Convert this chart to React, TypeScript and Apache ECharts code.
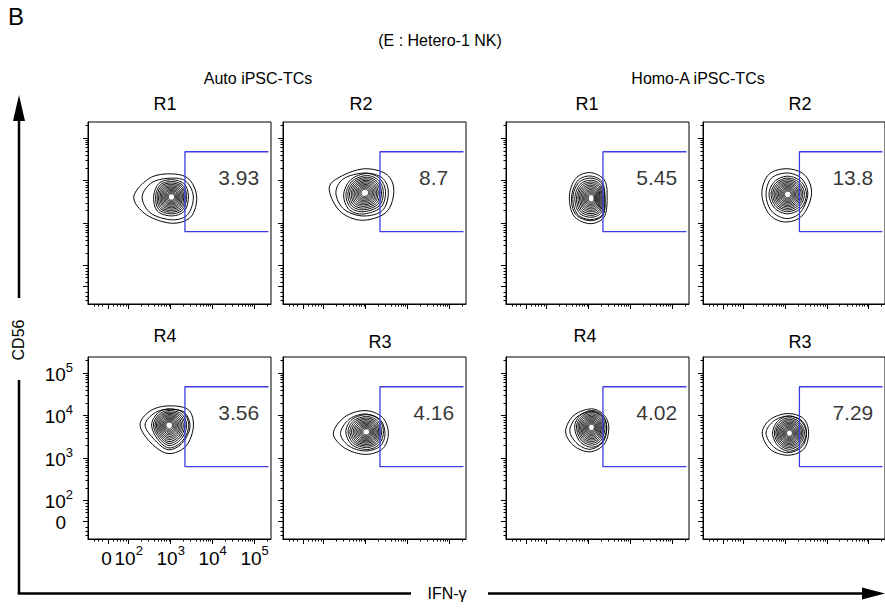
import React, { useEffect, useRef } from "react";
import * as echarts from "echarts";

const FONT = "Liberation Sans, Arial, Helvetica, sans-serif";

// ---- data ----
const panelTitles = ["R1", "R2", "R1", "R2", "R4", "R3", "R4", "R3"];
const gateValues = ["3.93", "8.7", "5.45", "13.8", "3.56", "4.16", "4.02", "7.29"];
const groupTitles = ["Auto iPSC-TCs", "Homo-A iPSC-TCs"];
const chartTitle = "(E : Hetero-1 NK)";
const panelLetter = "B";
const yAxisName = "CD56";
const xAxisName = "IFN-γ";

// display units: 10^k sits at k ; "0" sits at 1.52 (biexponential scale)
const tickValues = [1.52, 2, 3, 4, 5];
const tickBase = ["0", "10", "10", "10", "10"];
const tickExp = ["", "2", "3", "4", "5"];
const axisRangeX = [1.03, 5.39];
const axisRangeY = [1.1, 5.38];

// gate (IFN-γ+ region)
const gateX = [3.34, 5.33];
const gateY = [2.8, 4.68];
const gateLabelPos = [4.62, 4.08];

// contour centres (display units)
const contourCenters = [
  [3.02, 3.62], [2.98, 3.72], [3.07, 3.59], [3.06, 3.68],
  [2.96, 3.78], [3.02, 3.62], [3.07, 3.73], [3.1, 3.59],
];
// outer contour (E, NE, N, NW, W, SW, S, SE offsets)
const outerContours = [
  [[0.6, 0], [0.41, 0.42], [0, 0.54], [-0.52, 0.44], [-0.9, 0], [-0.6, -0.42], [0, -0.62], [0.46, -0.47]],
  [[0.69, 0.02], [0.53, 0.42], [0, 0.56], [-0.57, 0.38], [-0.85, 0.1], [-0.6, -0.43], [-0.08, -0.65], [0.5, -0.47]],
  [[0.37, 0.04], [0.3, 0.43], [-0.04, 0.6], [-0.38, 0.46], [-0.53, 0.04], [-0.42, -0.42], [-0.04, -0.6], [0.3, -0.44]],
  [[0.57, 0], [0.42, 0.44], [0, 0.6], [-0.45, 0.47], [-0.62, 0.02], [-0.45, -0.46], [-0.08, -0.65], [0.34, -0.51]],
  [[0.58, -0.04], [0.46, 0.36], [-0.02, 0.45], [-0.45, 0.33], [-0.69, 0], [-0.43, -0.42], [-0.02, -0.67], [0.4, -0.5]],
  [[0.52, -0.04], [0.38, 0.34], [-0.04, 0.5], [-0.52, 0.35], [-0.79, -0.04], [-0.52, -0.38], [-0.04, -0.53], [0.38, -0.4]],
  [[0.41, -0.02], [0.3, 0.28], [0, 0.43], [-0.42, 0.28], [-0.62, -0.1], [-0.42, -0.44], [-0.04, -0.58], [0.3, -0.4]],
  [[0.46, 0], [0.34, 0.34], [-0.04, 0.46], [-0.46, 0.32], [-0.65, 0], [-0.46, -0.38], [-0.04, -0.52], [0.34, -0.38]],
];
const secondContours = [
  [[0.52, 0], [0.35, 0.36], [0, 0.44], [-0.46, 0.34], [-0.7, 0], [-0.5, -0.38], [0, -0.54], [0.38, -0.42]],
  [[0.56, 0], [0.42, 0.34], [0, 0.46], [-0.5, 0.33], [-0.69, 0], [-0.5, -0.39], [-0.04, -0.55], [0.42, -0.42]],
  [[0.32, 0], [0.25, 0.38], [-0.04, 0.52], [-0.34, 0.4], [-0.48, 0], [-0.38, -0.38], [-0.04, -0.53], [0.27, -0.4]],
  [[0.48, 0], [0.34, 0.36], [0, 0.5], [-0.39, 0.38], [-0.52, 0], [-0.39, -0.39], [-0.04, -0.57], [0.3, -0.43]],
  [[0.5, -0.04], [0.36, 0.3], [-0.02, 0.37], [-0.35, 0.28], [-0.57, 0], [-0.35, -0.34], [-0.02, -0.58], [0.32, -0.42]],
  [[0.44, -0.04], [0.32, 0.29], [-0.04, 0.42], [-0.42, 0.29], [-0.62, -0.04], [-0.42, -0.33], [-0.04, -0.45], [0.32, -0.34]],
  [[0.36, -0.02], [0.27, 0.24], [0, 0.37], [-0.35, 0.24], [-0.52, -0.08], [-0.35, -0.38], [-0.04, -0.52], [0.27, -0.35]],
  [[0.41, 0], [0.3, 0.29], [-0.04, 0.4], [-0.38, 0.28], [-0.56, 0], [-0.38, -0.32], [-0.04, -0.46], [0.3, -0.32]],
];
const coreContours = [
  [[0.36, 0], [0.27, 0.27], [0, 0.36], [-0.27, 0.28], [-0.38, 0], [-0.3, -0.3], [0, -0.4], [0.27, -0.3]],
  [[0.44, 0.02], [0.32, 0.29], [0.04, 0.4], [-0.3, 0.27], [-0.45, -0.04], [-0.34, -0.35], [-0.04, -0.45], [0.34, -0.31]],
  [[0.28, 0], [0.21, 0.31], [-0.02, 0.42], [-0.28, 0.32], [-0.4, 0], [-0.3, -0.34], [-0.02, -0.45], [0.23, -0.34]],
  [[0.4, 0], [0.28, 0.27], [0, 0.38], [-0.28, 0.27], [-0.4, 0], [-0.28, -0.29], [0, -0.41], [0.28, -0.29]],
  [[0.42, -0.02], [0.3, 0.26], [0, 0.34], [-0.24, 0.25], [-0.37, 0], [-0.24, -0.3], [0, -0.48], [0.28, -0.34]],
  [[0.36, 0], [0.26, 0.26], [0, 0.36], [-0.31, 0.26], [-0.44, 0], [-0.31, -0.27], [0, -0.37], [0.26, -0.27]],
  [[0.32, 0], [0.23, 0.25], [0, 0.35], [-0.25, 0.24], [-0.36, 0], [-0.25, -0.3], [0, -0.42], [0.23, -0.3]],
  [[0.36, 0], [0.25, 0.25], [0, 0.36], [-0.25, 0.25], [-0.36, 0], [-0.25, -0.26], [0, -0.38], [0.25, -0.26]],
];
const coreScales = [1.12, 1, 0.9, 0.81, 0.72, 0.64, 0.56, 0.48, 0.41, 0.34, 0.27, 0.2];

// ---- layout ----
const PANEL_LEFT = [88, 283, 506, 703];
const PANEL_TOP = [122, 357];
const PANEL_W = 183;
const PANEL_H = 182;
const GATE_COLOR = "#3c3ce6";
const LABELLED_PANEL = 4;
const BASE_SIZE = 19;
const EXP_SIZE = 13;

const minorTicks: number[] = [1.18, 1.28, 1.38, 1.62, 1.72, 1.8, 1.87, 1.93];
for (let k = 2; k <= 5; k++) {
  for (let m = 2; m <= 9; m++) {
    const v = k + Math.log10(m);
    if (v < axisRangeX[1]) minorTicks.push(v);
  }
}

// closed Catmull-Rom smoothing of a ring of pixel points
function smoothRing(pts: number[][], steps = 10): number[][] {
  const n = pts.length;
  const out: number[][] = [];
  for (let i = 0; i < n; i++) {
    const p0 = pts[(i - 1 + n) % n];
    const p1 = pts[i];
    const p2 = pts[(i + 1) % n];
    const p3 = pts[(i + 2) % n];
    for (let s = 0; s < steps; s++) {
      const t = s / steps;
      const t2 = t * t;
      const t3 = t2 * t;
      const f = (a: number, b: number, c: number, d: number) =>
        0.5 * (2 * b + (-a + c) * t + (2 * a - 5 * b + 4 * c - d) * t2 + (-a + 3 * b - 3 * c + d) * t3);
      out.push([f(p0[0], p1[0], p2[0], p3[0]), f(p0[1], p1[1], p2[1], p3[1])]);
    }
  }
  return out;
}

const txt = (text: string, x: number, y: number, fontSize: number, extra: any = {}, align = "center", vAlign = "middle") => ({
  type: "text", x, y, silent: true, ...extra,
  style: { text, fontSize, fontFamily: FONT, fill: "#000", align, verticalAlign: vAlign },
});

function baseGraphic(): any[] {
  const titleY = [104, 104, 104, 104, 336, 342, 336, 342];
  const titleX = [165, 361, 587, 800, 165, 380, 585, 800];
  return [
    txt(panelLetter, 16, 16, 24),
    txt(chartTitle, 440, 40, 16),
    txt(groupTitles[0], 258, 78, 16),
    txt(groupTitles[1], 698, 78, 16),
    ...panelTitles.map((t, i) => txt(t, titleX[i], titleY[i], 18)),
    txt(yAxisName, 18, 340, 16, { rotation: Math.PI / 2 }),
    txt(xAxisName, 447, 593, 16),
    { type: "line", silent: true, shape: { x1: 19, y1: 116, x2: 19, y2: 298 }, style: { stroke: "#000", lineWidth: 2.5 } },
    { type: "line", silent: true, shape: { x1: 19, y1: 380, x2: 19, y2: 594 }, style: { stroke: "#000", lineWidth: 2.5 } },
    { type: "line", silent: true, shape: { x1: 17.8, y1: 593.5, x2: 411, y2: 593.5 }, style: { stroke: "#000", lineWidth: 2.5 } },
    { type: "line", silent: true, shape: { x1: 488, y1: 593.5, x2: 866, y2: 593.5 }, style: { stroke: "#000", lineWidth: 2.5 } },
    { type: "polygon", silent: true, shape: { points: [[19, 95], [13, 121], [25, 121]] }, style: { fill: "#000" } },
    { type: "polygon", silent: true, shape: { points: [[885, 593.5], [862, 587.5], [862, 599.5]] }, style: { fill: "#000" } },
  ];
}

function buildOption() {
  const grid: any[] = [];
  const xAxis: any[] = [];
  const yAxis: any[] = [];
  const series: any[] = [];
  for (let i = 0; i < 8; i++) {
    const col = i % 4;
    const row = Math.floor(i / 4);
    grid.push({
      left: PANEL_LEFT[col], top: PANEL_TOP[row], width: PANEL_W, height: PANEL_H,
      show: true, borderColor: "#000", borderWidth: 1, backgroundColor: "transparent",
    });
    const common = { type: "value", gridIndex: i, splitLine: { show: false }, axisLabel: { show: false } };
    xAxis.push({
      ...common, min: axisRangeX[0], max: axisRangeX[1], position: "bottom",
      axisLine: { show: true, lineStyle: { color: "#000", width: 1 } },
      axisTick: { show: true, inside: false, length: 5, customValues: tickValues, lineStyle: { color: "#000", width: 1 } },
    });
    xAxis.push({
      ...common, min: axisRangeX[0], max: axisRangeX[1], position: "bottom",
      axisLine: { show: false },
      axisTick: { show: true, inside: false, length: 2.5, customValues: minorTicks, lineStyle: { color: "#000", width: 1 } },
    });
    yAxis.push({
      ...common, min: axisRangeY[0], max: axisRangeY[1], position: "left",
      axisLine: { show: true, lineStyle: { color: "#000", width: 1 } },
      axisTick: { show: true, inside: false, length: 5, customValues: tickValues, lineStyle: { color: "#000", width: 1 } },
    });
    yAxis.push({
      ...common, min: axisRangeY[0], max: axisRangeY[1], position: "left",
      axisLine: { show: false },
      axisTick: { show: true, inside: false, length: 2.5, customValues: minorTicks.filter((v) => v < axisRangeY[1]), lineStyle: { color: "#000", width: 1 } },
    });

    const [cx, cy] = contourCenters[i];
    const levels: number[][][] = [outerContours[i], secondContours[i]];
    coreScales.forEach((s) => {
      levels.push(coreContours[i].map(([dx, dy]) => [dx * s, dy * s]));
    });
    series.push({
      type: "custom",
      coordinateSystem: "cartesian2d",
      xAxisIndex: i * 2,
      yAxisIndex: i * 2,
      silent: true,
      clip: true,
      data: levels.map((_, li) => [cx, cy, li]),
      renderItem: (params: any, api: any) => {
        const lv = levels[params.dataIndex];
        const pts = lv.map(([dx, dy]) => api.coord([cx + dx, cy + dy]));
        return {
          type: "polygon",
          shape: { points: smoothRing(pts) },
          style: { fill: "none", stroke: "#000", lineWidth: 1 },
        };
      },
    });
    series.push({
      type: "line",
      xAxisIndex: i * 2,
      yAxisIndex: i * 2,
      symbol: "none",
      silent: true,
      lineStyle: { color: GATE_COLOR, width: 1.3 },
      data: [
        [gateX[1], gateY[1]], [gateX[0], gateY[1]], [gateX[0], gateY[0]], [gateX[1], gateY[0]],
      ],
    });
    series.push({
      type: "scatter",
      xAxisIndex: i * 2,
      yAxisIndex: i * 2,
      symbolSize: 1,
      silent: true,
      itemStyle: { color: "rgba(0,0,0,0)" },
      label: {
        show: true, position: "inside", formatter: gateValues[i],
        fontSize: 21, fontFamily: FONT, color: "#000", textBorderWidth: 0,
      },
      data: [gateLabelPos],
    });
  }

  return { animation: false, backgroundColor: "#fff", grid, xAxis, yAxis, series, graphic: baseGraphic() };
}

export default function App() {
  const ref = useRef<HTMLDivElement>(null);
  useEffect(() => {
    if (!ref.current) return;
    const chart = echarts.init(ref.current, undefined, { renderer: "svg" });
    chart.setOption(buildOption() as any);
    // tick labels of the labelled panel, placed through the panel's own axes
    const finder = { xAxisIndex: LABELLED_PANEL * 2, yAxisIndex: LABELLED_PANEL * 2 } as any;
    const baseW = 0.556 * BASE_SIZE; // digit advance
    const expW = 0.556 * EXP_SIZE;
    const tickGraphic: any[] = [];
    tickValues.forEach((v, i) => {
      const px = chart.convertToPixel(finder, [v, axisRangeY[0]]) as number[];
      const py = chart.convertToPixel(finder, [axisRangeX[0], v]) as number[];
      const base = tickBase[i];
      const exp = tickExp[i];
      const bw = base.length * baseW;
      const ew = exp.length * expW;
      // x axis label (centred under tick)
      const xTop = px[1] + 10;
      const xLeft = px[0] - (bw + ew) / 2 + (i === 0 ? -2 : 0);
      tickGraphic.push(txt(base, xLeft, xTop, BASE_SIZE, {}, "left", "top"));
      if (exp) tickGraphic.push(txt(exp, xLeft + bw, xTop - 5, EXP_SIZE, {}, "left", "top"));
      // y axis label (right aligned left of tick)
      const yRight = py[0] - 15;
      const yMid = py[1] + 1;
      if (exp) {
        tickGraphic.push(txt(exp, yRight, yMid - 7, EXP_SIZE, {}, "right", "middle"));
        tickGraphic.push(txt(base, yRight - ew, yMid, BASE_SIZE, {}, "right", "middle"));
      } else {
        tickGraphic.push(txt(base, yRight - 7, yMid, BASE_SIZE, {}, "right", "middle"));
      }
    });
    chart.setOption({ graphic: [...baseGraphic(), ...tickGraphic] } as any);
    return () => chart.dispose();
  }, []);
  return (
    <div
      ref={ref}
      style={{ position: "fixed", left: 0, top: 0, width: 885, height: 611, background: "#fff" }}
    />
  );
}
